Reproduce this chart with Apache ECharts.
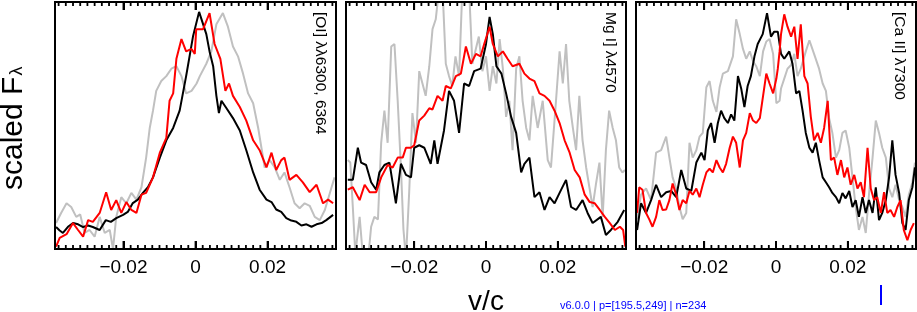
<!DOCTYPE html>
<html>
<head>
<meta charset="utf-8">
<script src="https://cdn.jsdelivr.net/npm/echarts@6/dist/echarts.min.js"></script>
<style>
html,body{margin:0;padding:0;background:#fff;}
#c{width:917px;height:312px;}
</style>
</head>
<body>
<div id="c"></div>
<script>
// ---- data (v/c, scaled flux) ----
var panelLabels = ['[OI] \u03bb\u03bb6300, 6364', 'Mg I] \u03bb4570', '[Ca II] \u03bb7300'];
var majorTicks = [-0.02, 0, 0.02];
var minorTicks = [-0.038,-0.036,-0.034,-0.032,-0.03,-0.028,-0.026,-0.024,-0.022,-0.018,-0.016,-0.014,-0.012,-0.01,-0.008,-0.006,-0.004,-0.002,0.002,0.004,0.006,0.008,0.01,0.012,0.014,0.016,0.018,0.022,0.024,0.026,0.028,0.03,0.032,0.034,0.036,0.038];

var oiGray = [[-0.0387,0.105],[-0.0373,0.146],[-0.0358,0.185],[-0.0345,0.17],[-0.0331,0.13],[-0.032,0.14],[-0.0308,0.065],[-0.0294,0.077],[-0.028,0.05],[-0.0266,0.13],[-0.0252,0.065],[-0.0238,0.077],[-0.0229,0.0],[-0.022,0.13],[-0.0206,0.21],[-0.0192,0.185],[-0.0178,0.227],[-0.0164,0.20],[-0.015,0.25],[-0.0137,0.37],[-0.0127,0.49],[-0.0118,0.56],[-0.0109,0.64],[-0.0095,0.68],[-0.0081,0.70],[-0.0067,0.73],[-0.0053,0.74],[-0.0039,0.70],[-0.0026,0.63],[-0.0011,0.64],[0.0003,0.67],[0.0012,0.70],[0.003,0.75],[0.0044,0.80],[0.0058,0.91],[0.0076,0.955],[0.009,0.90],[0.0104,0.82],[0.0118,0.78],[0.0132,0.71],[0.0146,0.63],[0.016,0.59],[0.0174,0.49],[0.0183,0.41],[0.0192,0.33],[0.0206,0.36],[0.022,0.33],[0.0234,0.28],[0.0247,0.31],[0.0261,0.25],[0.0275,0.185],[0.0289,0.165],[0.0303,0.185],[0.0317,0.175],[0.0331,0.13],[0.0345,0.117],[0.0359,0.158],[0.0373,0.227],[0.0386,0.29]];
var oiBlack = [[-0.0387,0.089],[-0.0377,0.075],[-0.0368,0.065],[-0.0354,0.09],[-0.034,0.105],[-0.0326,0.10],[-0.0312,0.089],[-0.0298,0.095],[-0.0285,0.089],[-0.0266,0.077],[-0.0249,0.117],[-0.0235,0.11],[-0.022,0.125],[-0.0201,0.138],[-0.0188,0.15],[-0.0174,0.186],[-0.016,0.20],[-0.0146,0.227],[-0.0132,0.25],[-0.0118,0.29],[-0.0099,0.37],[-0.0081,0.44],[-0.0062,0.49],[-0.0044,0.56],[-0.0026,0.70],[-0.0007,0.86],[0.001,0.96],[0.003,0.87],[0.0039,0.80],[0.0049,0.74],[0.0058,0.62],[0.0065,0.55],[0.0072,0.60],[0.0086,0.57],[0.0104,0.53],[0.0123,0.48],[0.0141,0.40],[0.016,0.31],[0.0178,0.24],[0.0197,0.20],[0.0211,0.19],[0.0224,0.16],[0.0238,0.15],[0.0252,0.125],[0.0266,0.115],[0.028,0.11],[0.0294,0.095],[0.0308,0.10],[0.0322,0.09],[0.0336,0.10],[0.035,0.105],[0.0363,0.117],[0.0382,0.138]];
var oiRed = [[-0.0387,0.01],[-0.0377,0.045],[-0.0358,0.06],[-0.034,0.105],[-0.0326,0.077],[-0.0312,0.05],[-0.0298,0.117],[-0.0285,0.11],[-0.0266,0.146],[-0.0248,0.23],[-0.0234,0.158],[-0.022,0.198],[-0.0206,0.146],[-0.0192,0.19],[-0.0178,0.158],[-0.0164,0.146],[-0.015,0.22],[-0.0137,0.227],[-0.0118,0.29],[-0.0099,0.39],[-0.0081,0.45],[-0.0072,0.60],[-0.0062,0.63],[-0.0053,0.77],[-0.0039,0.85],[-0.0026,0.80],[-0.0011,0.81],[-0.0002,0.79],[0.0002,0.89],[0.0021,0.89],[0.0039,0.955],[0.0053,0.83],[0.0069,0.77],[0.0083,0.64],[0.0093,0.67],[0.0104,0.62],[0.0123,0.575],[0.0141,0.52],[0.016,0.44],[0.0178,0.40],[0.0197,0.33],[0.0211,0.39],[0.0224,0.32],[0.0238,0.36],[0.0247,0.37],[0.0261,0.28],[0.028,0.30],[0.0298,0.27],[0.0317,0.23],[0.0336,0.26],[0.0354,0.185],[0.0368,0.20],[0.0382,0.185]];

var mgGray = [[-0.0385,0.36],[-0.0378,0.35],[-0.0371,0.17],[-0.0364,-0.02],[-0.0352,0.13],[-0.0343,-0.03],[-0.0329,-0.05],[-0.032,0.09],[-0.0311,0.13],[-0.0301,0.12],[-0.0292,0.43],[-0.0283,0.56],[-0.0274,0.43],[-0.0264,0.82],[-0.0255,0.83],[-0.0246,0.60],[-0.0237,0.33],[-0.023,0.08],[-0.0223,-0.04],[-0.0214,0.23],[-0.0205,0.55],[-0.0195,0.43],[-0.0186,0.72],[-0.0177,0.67],[-0.0168,0.62],[-0.0158,0.74],[-0.0149,0.89],[-0.014,0.93],[-0.0131,1.05],[-0.0121,1.05],[-0.0112,0.75],[-0.0103,0.70],[-0.0094,0.66],[-0.0085,0.78],[-0.0075,0.70],[-0.0066,1.05],[-0.0057,1.05],[-0.0047,1.05],[-0.0038,0.75],[-0.003,0.80],[-0.002,0.86],[-0.001,0.72],[0.0,0.78],[0.001,0.64],[0.0019,0.74],[0.0029,0.67],[0.0038,0.85],[0.0047,0.73],[0.0056,0.535],[0.0065,0.60],[0.0074,0.40],[0.0084,0.73],[0.0093,0.78],[0.0102,0.60],[0.0112,0.49],[0.0121,0.44],[0.013,0.62],[0.0144,0.49],[0.0158,0.60],[0.0172,0.36],[0.0181,0.33],[0.0195,0.60],[0.0205,0.80],[0.0214,0.67],[0.0223,0.83],[0.0232,0.60],[0.0242,0.49],[0.0251,0.40],[0.026,0.62],[0.0269,0.44],[0.0279,0.33],[0.0288,0.25],[0.0297,0.17],[0.0306,0.26],[0.0316,0.35],[0.0325,0.13],[0.0334,0.40],[0.0343,0.56],[0.0353,0.49],[0.0362,0.44],[0.0371,0.33],[0.038,0.31],[0.0387,0.32]];
var mgBlack = [[-0.0385,0.28],[-0.0371,0.28],[-0.0357,0.41],[-0.0348,0.35],[-0.0334,0.34],[-0.032,0.27],[-0.0306,0.24],[-0.0297,0.31],[-0.0283,0.34],[-0.0269,0.35],[-0.0251,0.185],[-0.0237,0.345],[-0.0223,0.30],[-0.0209,0.29],[-0.02,0.41],[-0.0186,0.42],[-0.0172,0.41],[-0.0154,0.345],[-0.0144,0.44],[-0.0135,0.345],[-0.0117,0.48],[-0.0103,0.64],[-0.0089,0.60],[-0.0075,0.47],[-0.0061,0.67],[-0.0047,0.66],[-0.0033,0.72],[-0.0015,0.73],[0.0,0.83],[0.001,0.94],[0.0019,0.87],[0.0029,0.74],[0.0043,0.71],[0.0056,0.63],[0.007,0.535],[0.0084,0.47],[0.0098,0.31],[0.0107,0.345],[0.0121,0.37],[0.0135,0.21],[0.0149,0.23],[0.0163,0.158],[0.0177,0.21],[0.0191,0.185],[0.0205,0.227],[0.0223,0.28],[0.0237,0.17],[0.0251,0.158],[0.0269,0.198],[0.0283,0.146],[0.0297,0.105],[0.032,0.13],[0.0334,0.057],[0.0348,0.077],[0.0367,0.11],[0.0385,0.158]];
var mgRed = [[-0.0385,0.24],[-0.0371,0.25],[-0.0352,0.198],[-0.0338,0.26],[-0.0324,0.23],[-0.0306,0.23],[-0.0292,0.29],[-0.0274,0.34],[-0.026,0.33],[-0.0246,0.37],[-0.0232,0.37],[-0.0223,0.41],[-0.0209,0.41],[-0.02,0.42],[-0.0186,0.52],[-0.0172,0.54],[-0.0158,0.57],[-0.0149,0.565],[-0.0135,0.62],[-0.0121,0.60],[-0.0112,0.66],[-0.0098,0.65],[-0.0084,0.70],[-0.007,0.71],[-0.0056,0.82],[-0.0042,0.75],[-0.0028,0.79],[-0.0015,0.78],[-0.0005,0.83],[0.001,0.90],[0.0019,0.83],[0.0033,0.78],[0.0047,0.80],[0.006,0.77],[0.0074,0.74],[0.0093,0.75],[0.0107,0.71],[0.0121,0.69],[0.0135,0.68],[0.0149,0.63],[0.0163,0.62],[0.0177,0.60],[0.0191,0.56],[0.0205,0.51],[0.0219,0.44],[0.0233,0.39],[0.0247,0.32],[0.0261,0.29],[0.0275,0.22],[0.0289,0.19],[0.0303,0.185],[0.0317,0.158],[0.0331,0.13],[0.0345,0.105],[0.0359,0.077],[0.0373,0.09],[0.0382,0.077],[0.0388,0.01]];

var caGray = [[-0.0387,0.12],[-0.0376,0.22],[-0.0362,0.245],[-0.0348,0.198],[-0.0334,0.39],[-0.032,0.40],[-0.0306,0.455],[-0.0297,0.37],[-0.0288,0.29],[-0.0278,0.245],[-0.0269,0.17],[-0.026,0.12],[-0.025,0.146],[-0.0241,0.43],[-0.0232,0.37],[-0.0222,0.40],[-0.0213,0.455],[-0.0204,0.47],[-0.0194,0.655],[-0.0185,0.68],[-0.0176,0.60],[-0.0166,0.555],[-0.0157,0.655],[-0.0148,0.71],[-0.0134,0.72],[-0.012,0.78],[-0.0111,0.93],[-0.0101,0.87],[-0.0092,0.81],[-0.0083,0.77],[-0.0073,0.80],[-0.0064,0.76],[-0.0055,0.74],[-0.0045,0.70],[-0.0036,0.80],[-0.0027,0.84],[-0.0018,0.85],[-0.0008,0.79],[0.0001,0.59],[0.001,0.60],[0.0014,0.65],[0.0023,0.69],[0.0032,0.73],[0.0042,0.745],[0.0051,0.79],[0.006,0.70],[0.0069,0.73],[0.0083,0.80],[0.0093,0.845],[0.0106,0.79],[0.012,0.73],[0.013,0.67],[0.0139,0.64],[0.0148,0.53],[0.0157,0.47],[0.0167,0.37],[0.0176,0.40],[0.0185,0.47],[0.0194,0.48],[0.0204,0.41],[0.0213,0.29],[0.0222,0.17],[0.0231,0.077],[0.0241,0.13],[0.025,0.065],[0.0259,0.22],[0.0269,0.37],[0.0278,0.52],[0.0287,0.47],[0.0296,0.41],[0.0306,0.37],[0.0315,0.245],[0.0324,0.21],[0.0333,0.26],[0.0343,0.198],[0.0352,0.17],[0.0361,0.13],[0.037,0.22],[0.038,0.27],[0.0387,0.35]];
var caBlack = [[-0.0387,0.077],[-0.0376,0.185],[-0.0362,0.146],[-0.0348,0.198],[-0.0334,0.26],[-0.032,0.21],[-0.0306,0.23],[-0.0292,0.235],[-0.0278,0.21],[-0.0264,0.32],[-0.025,0.245],[-0.0236,0.235],[-0.0222,0.35],[-0.0208,0.39],[-0.0199,0.36],[-0.019,0.48],[-0.0181,0.51],[-0.0171,0.43],[-0.0162,0.51],[-0.0153,0.56],[-0.0144,0.53],[-0.0134,0.51],[-0.0125,0.545],[-0.0116,0.52],[-0.0106,0.70],[-0.0097,0.65],[-0.0088,0.575],[-0.0079,0.66],[-0.007,0.70],[-0.006,0.78],[-0.0051,0.83],[-0.0037,0.87],[-0.0025,0.955],[-0.0014,0.86],[-0.0005,0.88],[0.0005,0.88],[0.0014,0.79],[0.0023,0.77],[0.0037,0.80],[0.0046,0.75],[0.0056,0.63],[0.0065,0.64],[0.0074,0.56],[0.0083,0.47],[0.0093,0.41],[0.0102,0.39],[0.0111,0.43],[0.012,0.36],[0.013,0.29],[0.0139,0.27],[0.0148,0.25],[0.0157,0.227],[0.0167,0.21],[0.0176,0.185],[0.0185,0.227],[0.0194,0.205],[0.0204,0.235],[0.0213,0.17],[0.0222,0.198],[0.0231,0.13],[0.0241,0.21],[0.025,0.146],[0.0259,0.198],[0.0269,0.146],[0.0278,0.25],[0.0287,0.117],[0.0296,0.146],[0.0306,0.198],[0.0315,0.29],[0.0324,0.44],[0.0333,0.30],[0.0343,0.227],[0.0352,0.105],[0.0361,0.077],[0.037,0.198],[0.038,0.25],[0.0387,0.33]];
var caRed = [[-0.0387,0.146],[-0.0381,0.25],[-0.0372,0.24],[-0.0362,0.146],[-0.0353,0.12],[-0.0344,0.09],[-0.0334,0.13],[-0.0325,0.198],[-0.0316,0.158],[-0.0306,0.16],[-0.0297,0.198],[-0.0288,0.265],[-0.0278,0.22],[-0.0269,0.158],[-0.026,0.198],[-0.025,0.185],[-0.0241,0.235],[-0.0232,0.22],[-0.0222,0.245],[-0.0213,0.21],[-0.0204,0.26],[-0.0194,0.31],[-0.0185,0.325],[-0.0176,0.31],[-0.0166,0.36],[-0.0157,0.33],[-0.0148,0.31],[-0.0139,0.345],[-0.0129,0.41],[-0.012,0.455],[-0.0111,0.43],[-0.0101,0.33],[-0.0092,0.44],[-0.0083,0.47],[-0.0073,0.55],[-0.0064,0.52],[-0.0055,0.51],[-0.0045,0.53],[-0.0036,0.62],[-0.0027,0.71],[-0.0018,0.67],[-0.0008,0.63],[0.0001,0.69],[0.0005,0.73],[0.001,0.80],[0.0014,0.87],[0.0023,0.95],[0.0032,0.90],[0.0042,0.86],[0.0051,0.90],[0.006,0.77],[0.0069,0.91],[0.0079,0.70],[0.0088,0.67],[0.0097,0.535],[0.0106,0.44],[0.0116,0.47],[0.0125,0.43],[0.0134,0.49],[0.0144,0.60],[0.0153,0.36],[0.0162,0.37],[0.0171,0.30],[0.0181,0.36],[0.019,0.29],[0.0199,0.33],[0.0208,0.26],[0.0218,0.30],[0.0227,0.245],[0.0236,0.27],[0.0245,0.21],[0.0255,0.41],[0.0264,0.245],[0.0273,0.198],[0.0282,0.21],[0.0292,0.146],[0.0301,0.23],[0.031,0.146],[0.0319,0.158],[0.0329,0.13],[0.0338,0.17],[0.0347,0.198],[0.0356,0.077],[0.0366,0.036],[0.0375,0.077],[0.0384,0.105]];

var panels = [
  {gray: oiGray, black: oiBlack, red: oiRed},
  {gray: mgGray, black: mgBlack, red: mgRed},
  {gray: caGray, black: caBlack, red: caRed}
];

// ---- layout ----
var FONT = 'Liberation Sans, Arial, Helvetica, sans-serif';
var gridLefts = [55, 346, 636];
var gridWidths = [281, 280, 280];
var GRID_H = 247;
var labelX = [320.5, 610.5, 899];
var XMIN = -0.039, XMAX = 0.039;
var debug = [];

function fmt(v) {
  if (Math.abs(v) < 1e-9) return '0';
  return (v < 0 ? '\u2212' : '') + Math.abs(v).toFixed(2);
}

var grids = [], xAxes = [], yAxes = [], series = [], graphics = [];
for (var i = 0; i < 3; i++) {
  grids.push({left: gridLefts[i], top: 2, width: gridWidths[i], height: GRID_H, show: false});
  ['bottom', 'top'].forEach(function (pos) {
    xAxes.push({type: 'value', gridIndex: i, position: pos, min: XMIN, max: XMAX, z: 5,
      axisLine: {show: true, onZero: false, lineStyle: {color: '#000', width: 2, cap: 'square'}},
      axisTick: {show: true, inside: true, length: 8, customValues: majorTicks, lineStyle: {color: '#000', width: 2}},
      splitLine: {show: false},
      axisLabel: pos === 'bottom'
        ? {show: true, customValues: majorTicks, formatter: fmt, fontSize: 19, fontFamily: FONT, color: '#000', margin: 9}
        : {show: false}});
  });
  ['left', 'right'].forEach(function (pos) {
    yAxes.push({type: 'value', gridIndex: i, position: pos, min: 0, max: 1, z: 5,
      axisLine: {show: true, onZero: false, lineStyle: {color: '#000', width: 2, cap: 'square'}},
      axisTick: {show: false}, axisLabel: {show: false}, splitLine: {show: false}});
  });

  var p = panels[i];
  [['gray', '#c0c0c0'], ['black', '#000000'], ['red', '#ff0000']].forEach(function (s) {
    series.push({type: 'line', xAxisIndex: 2 * i, yAxisIndex: 2 * i, data: p[s[0]],
      showSymbol: false, symbol: 'none', clip: true, animation: false,
      lineStyle: {color: s[1], width: 2}, emphasis: {disabled: true}});
  });

  graphics.push({type: 'text', x: labelX[i], y: 12, rotation: -Math.PI / 2,
    style: {text: panelLabels[i], font: '15.5px ' + FONT, fill: '#000', align: 'left', verticalAlign: 'middle'}});
}

// axis titles
var ctx = document.createElement('canvas').getContext('2d');
ctx.font = '30px ' + FONT;
var wMain = ctx.measureText('scaled F').width;
graphics.push({type: 'text', x: 14, y: 190, rotation: Math.PI / 2,
  style: {text: 'scaled F', font: '30px ' + FONT, fill: '#000', align: 'left', verticalAlign: 'middle'}});
graphics.push({type: 'text', x: 17, y: 190 - wMain - 1, rotation: Math.PI / 2,
  style: {text: '\u03bb', font: '18px ' + FONT, fill: '#000', align: 'left', verticalAlign: 'middle'}});
graphics.push({type: 'text', x: 486, y: 302,
  style: {text: 'v/c', font: '28px ' + FONT, fill: '#000', align: 'center', verticalAlign: 'middle'}});

var chart = echarts.init(document.getElementById('c'), null, {renderer: 'canvas'});
chart.setOption({
  animation: false,
  grid: grids,
  xAxis: xAxes,
  yAxis: yAxes,
  series: series,
  graphic: graphics
});

// diagnostics + tick marks placed via the library's axis scales
var tickEls = [];
try {
  debug.push('v' + echarts.version);
  var probe = chart.convertToPixel({xAxisIndex: 0, yAxisIndex: 0}, [0, 0]);
  debug.push('p=' + JSON.stringify(probe));
  for (var g = 0; g < 3; g++) {
    [[majorTicks, 8], [minorTicks, 4]].forEach(function (set) {
      set[0].forEach(function (v) {
        var finder = {xAxisIndex: 2 * g, yAxisIndex: 2 * g};
        var b = chart.convertToPixel(finder, [v, 0]);
        var t = chart.convertToPixel(finder, [v, 1]);
        var L = set[1];
        tickEls.push({type: 'rect', z: 100, silent: true,
          shape: {x: b[0] - 0.9, y: b[1] - L, width: 1.8, height: L},
          style: {fill: '#000'}});
        tickEls.push({type: 'rect', z: 100, silent: true,
          shape: {x: t[0] - 0.9, y: t[1], width: 1.8, height: L},
          style: {fill: '#000'}});
      });
    });
  }
  debug.push('n=' + tickEls.length);
} catch (e) {
  debug.push('ERR ' + e.message);
}
tickEls.push({type: 'text', x: 560, y: 300, z: 100,
  style: {text: debug.join(' | '), font: '11px ' + FONT, fill: '#0000ff'}});
tickEls.push({type: 'rect', x: 880, y: 285, z: 100, shape: {x: 0, y: 0, width: 2, height: 20}, style: {fill: '#0000ff'}});
chart.setOption({graphic: graphics.concat(tickEls)});
</script>
</body>
</html>
